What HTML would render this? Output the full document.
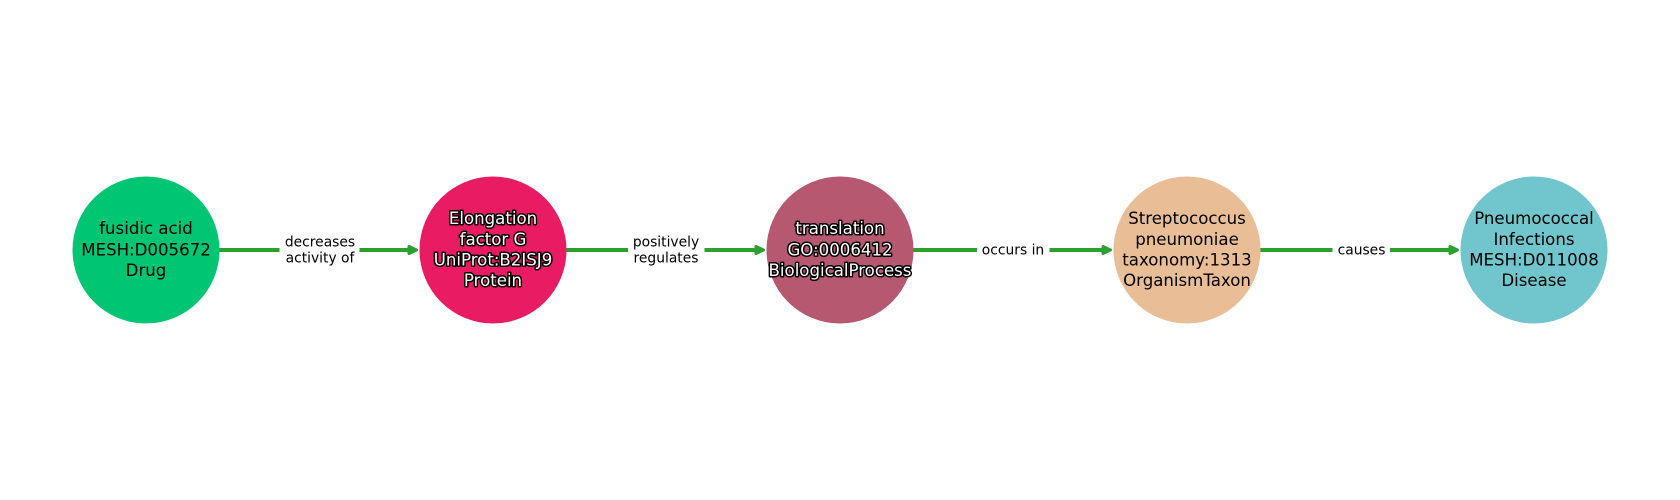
<!DOCTYPE html>
<html>
<head>
<meta charset="utf-8">
<style>
html,body{margin:0;padding:0;background:#fff;width:1680px;height:500px;overflow:hidden}
svg{display:block}
text{font-family:"DejaVu Sans",sans-serif;text-anchor:middle}
.n{font-size:16.6px;fill:#000}
.w{font-size:16.6px;fill:#fff;stroke:#000;stroke-width:3px;paint-order:stroke;stroke-linejoin:round}
.e{font-size:13.85px;fill:#000}
.l{stroke:#2ca02c;stroke-width:4px;fill:none}
.a{fill:#2ca02c;stroke:#2ca02c;stroke-width:3px;stroke-linejoin:round}
</style>
</head>
<body>
<svg width="1680" height="500" viewBox="0 0 1680 500" xmlns="http://www.w3.org/2000/svg">
<rect width="1680" height="500" fill="#fff"/>

<line class="l" x1="219" y1="250" x2="279.5" y2="250"/>
<line class="l" x1="359.5" y1="250" x2="410" y2="250"/>
<path class="a" d="M409 246.5L416.5 250L409 253.5Z"/>

<line class="l" x1="566" y1="250" x2="628" y2="250"/>
<line class="l" x1="704.5" y1="250" x2="757" y2="250"/>
<path class="a" d="M756 246.5L763.5 250L756 253.5Z"/>

<line class="l" x1="913" y1="250" x2="977" y2="250"/>
<line class="l" x1="1049.5" y1="250" x2="1104" y2="250"/>
<path class="a" d="M1103 246.5L1110.5 250L1103 253.5Z"/>

<line class="l" x1="1260" y1="250" x2="1332.5" y2="250"/>
<line class="l" x1="1390" y1="250" x2="1451" y2="250"/>
<path class="a" d="M1450 246.5L1457.5 250L1450 253.5Z"/>

<circle cx="146" cy="250" r="73.5" fill="#00c573"/>
<circle cx="493" cy="250" r="73.5" fill="#e91b63"/>
<circle cx="840" cy="250" r="73.5" fill="#b55870"/>
<circle cx="1187" cy="250" r="73.5" fill="#e9be96"/>
<circle cx="1534" cy="250" r="73.5" fill="#70c6cc"/>

<text class="n" x="146" y="234">fusidic acid</text>
<text class="n" x="146" y="255.5">MESH:D005672</text>
<text class="n" x="146" y="276">Drug</text>

<text class="w" x="493" y="224">Elongation</text>
<text class="w" x="493" y="245">factor G</text>
<text class="w" x="493" y="265.5">UniProt:B2ISJ9</text>
<text class="w" x="493" y="286">Protein</text>

<text class="w" x="840" y="234">translation</text>
<text class="w" x="840" y="255.5">GO:0006412</text>
<text class="w" x="840" y="276">BiologicalProcess</text>

<text class="n" x="1187" y="224">Streptococcus</text>
<text class="n" x="1187" y="245">pneumoniae</text>
<text class="n" x="1187" y="265.5">taxonomy:1313</text>
<text class="n" x="1187" y="286">OrganismTaxon</text>

<text class="n" x="1534" y="224">Pneumococcal</text>
<text class="n" x="1534" y="245">Infections</text>
<text class="n" x="1534" y="265.5">MESH:D011008</text>
<text class="n" x="1534" y="286">Disease</text>

<text class="e" x="320" y="246.5">decreases</text>
<text class="e" x="320" y="262.5">activity of</text>
<text class="e" x="666" y="246.5">positively</text>
<text class="e" x="666" y="262.5">regulates</text>
<text class="e" x="1013" y="254.5">occurs in</text>
<text class="e" x="1361.5" y="254.5">causes</text>
</svg>
</body>
</html>
